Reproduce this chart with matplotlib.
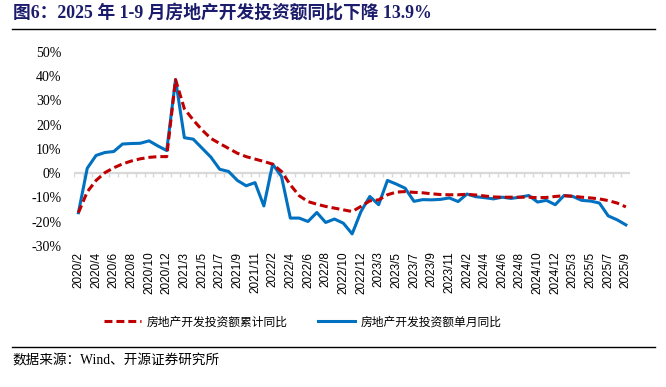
import matplotlib
matplotlib.use("Agg")
import matplotlib.pyplot as plt
from matplotlib.lines import Line2D
import numpy as np

# Categories: monthly, Jan merged into Feb (Jan-Feb data)
months = []
for y in range(2020, 2026):
    last = 9 if y == 2025 else 12
    for m in range(2, last + 1):
        months.append(f"{y}/{m}")

# 房地产开发投资额累计同比 (%)
cum_yoy = [-16.3, -7.7, -3.0, 0.2, 2.2, 3.8, 5.0, 5.9, 6.5, 6.8, 6.8,
           38.5, 26.5, 21.9, 17.8, 14.3, 12.2, 10.2, 8.2, 6.8, 5.8, 4.8,
           3.7, 0.7, -4.8, -9.3, -11.7, -12.8, -13.7, -14.4, -15.1, -15.8, -13.7,
           -11.4, -11.0, -8.9, -7.8, -7.6, -7.9, -8.1, -8.5, -8.8, -8.9, -8.9,
           -8.7, -9.0, -9.4, -9.8, -9.9, -9.9, -9.9, -9.9, -10.1, -10.0, -9.6,
           -9.3, -9.5, -9.9, -10.2, -10.6, -11.3, -12.3, -13.9]

# 房地产开发投资额单月同比 (%)
month_yoy = [-16.3, 2.0, 7.3, 8.5, 8.9, 12.0, 12.2, 12.3, 13.3, 11.2, 9.3,
             38.5, 14.6, 14.0, 10.3, 6.6, 1.6, 0.7, -3.0, -5.2, -3.9, -13.5,
             3.7, -1.4, -18.5, -18.5, -19.9, -16.2, -20.3, -18.9, -20.6, -25.0, -15.8,
             -9.6, -13.0, -3.0, -4.5, -6.2, -11.6, -10.9, -11.0, -10.8, -10.2, -11.7,
             -8.6, -9.7, -10.1, -10.6, -9.9, -10.4, -9.9, -9.2, -11.9, -11.2, -13.0,
             -9.2, -9.6, -11.2, -11.5, -12.3, -17.6, -19.2, -21.3]

yticks = [-30, -20, -10, 0, 10, 20, 30, 40, 50]

x = np.arange(len(months))

fig = plt.figure(figsize=(6.66, 3.87), dpi=100)
ax = fig.add_axes([0.1111, 0.3643, 0.8353, 0.5021])

# zero axis line with category tick marks
ax.axhline(0, color="#d9d9d9", lw=1.6, zorder=1)
ax.vlines(np.arange(-0.5, len(months)), -1.5, 0, color="#d9d9d9", lw=1, zorder=1)

ax.plot(x, cum_yoy, color="#c00000", lw=2.2, dashes=(2.6, 1.3),
        solid_joinstyle="round", dash_joinstyle="round", zorder=3,
        label="房地产开发投资额累计同比")
ax.plot(x, month_yoy, color="#0070c0", lw=2.2, solid_joinstyle="round",
        zorder=2, label="房地产开发投资额单月同比")

ax.set_xlim(-0.5, len(months) - 0.5)
ax.set_ylim(-30, 50)
ax.set_yticks(yticks)
ax.set_yticklabels([f"{v}%" for v in yticks], fontsize=10,
                   family="Liberation Serif")
ax.set_xticks(x[::2])
ax.set_xticklabels(months[::2], rotation=90, fontsize=8.5,
                   family="Liberation Sans")
ax.tick_params(axis="both", length=0)
ax.tick_params(axis="y", pad=9)
ax.tick_params(axis="x", pad=4)
for s in ax.spines.values():
    s.set_visible(False)

# legend
fig.legend(loc="center", bbox_to_anchor=(303 / 666, 1 - 322 / 387), ncol=2,
           frameon=False, handlelength=3.1, handletextpad=0.5,
           columnspacing=2.6, prop={"family": "Noto Sans CJK SC", "size": 8.5})

# title, rules and source
fig.text(13 / 666, 1 - 13 / 387, "图6：2025 年 1-9 月房地产开发投资额同比下降 13.9%",
         fontsize=12.8, fontweight="bold", color="#1c1c6c", va="center",
         family=["Liberation Serif", "Noto Sans CJK SC"])
fig.add_artist(Line2D([12 / 666, 655 / 666], [1 - 29 / 387, 1 - 29 / 387],
                      color="black", lw=1))
fig.add_artist(Line2D([12 / 666, 655 / 666], [1 - 347 / 387, 1 - 347 / 387],
                      color="black", lw=1))
fig.text(12 / 666, 1 - 361 / 387, "数据来源：Wind、开源证券研究所", fontsize=9.8,
         va="center", family=["Liberation Serif", "Noto Sans CJK SC"])

fig.savefig("out.png", dpi=100)
